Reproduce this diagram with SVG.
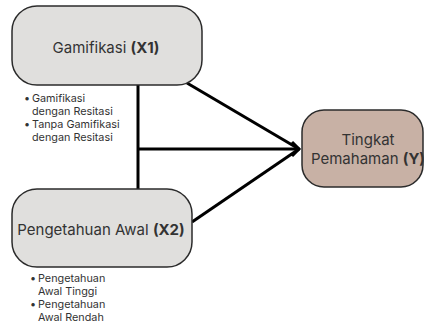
<svg xmlns="http://www.w3.org/2000/svg" width="424" height="327" viewBox="0 0 424 327">
<style>
.box{fill:#e0dfdd;stroke:#2b2b2b;stroke-width:1.5}
.ybox{fill:#c8b1a5;stroke:#2b2b2b;stroke-width:1.5}
.t{font-family:Inter,"Liberation Sans",sans-serif;font-size:15px;fill:#333}
.b{font-weight:bold}
.s{font-family:Inter,"Liberation Sans",sans-serif;font-size:10.8px;fill:#333}
.c{stroke:#000;stroke-width:3;fill:none}
.ah{stroke:#000;stroke-width:3;fill:none;stroke-linejoin:miter}
</style>
<rect width="424" height="327" fill="#fff"/>
<g id="connectors">
<line class="c" x1="138" y1="85" x2="138" y2="189"/>
<line class="c" x1="138" y1="149" x2="299" y2="149"/>
<line class="c" x1="187" y1="83" x2="299" y2="149"/>
<line class="c" x1="192" y1="222" x2="299" y2="149"/>
<path class="ah" d="M292,142 L299,149 L292,156"/>
</g>
<g id="x1">
<rect class="box" x="12" y="6" width="190" height="79" rx="25"/>
<text class="t" x="106" y="53" text-anchor="middle">Gamifikasi <tspan class="b">(X1)</tspan></text>
<text class="s" x="24" y="102">•</text>
<text class="s" x="32" y="102">Gamifikasi</text>
<text class="s" x="32" y="115">dengan Resitasi</text>
<text class="s" x="24" y="128">•</text>
<text class="s" x="32" y="128">Tanpa Gamifikasi</text>
<text class="s" x="32" y="141">dengan Resitasi</text>
</g>
<g id="x2">
<rect class="box" x="12" y="189" width="180" height="78" rx="25"/>
<text class="t" x="101" y="235" text-anchor="middle">Pengetahuan Awal <tspan class="b">(X2)</tspan></text>
<text class="s" x="30" y="282">•</text>
<text class="s" x="38" y="282">Pengetahuan</text>
<text class="s" x="38" y="295">Awal Tinggi</text>
<text class="s" x="30" y="308">•</text>
<text class="s" x="38" y="308">Pengetahuan</text>
<text class="s" x="38" y="321">Awal Rendah</text>
</g>
<g id="y">
<rect class="ybox" x="302" y="110" width="121" height="77" rx="22"/>
<text class="t" x="368" y="145" text-anchor="middle">Tingkat</text>
<text class="t" x="368" y="164" text-anchor="middle">Pemahaman <tspan class="b">(Y)</tspan></text>
</g>
</svg>
